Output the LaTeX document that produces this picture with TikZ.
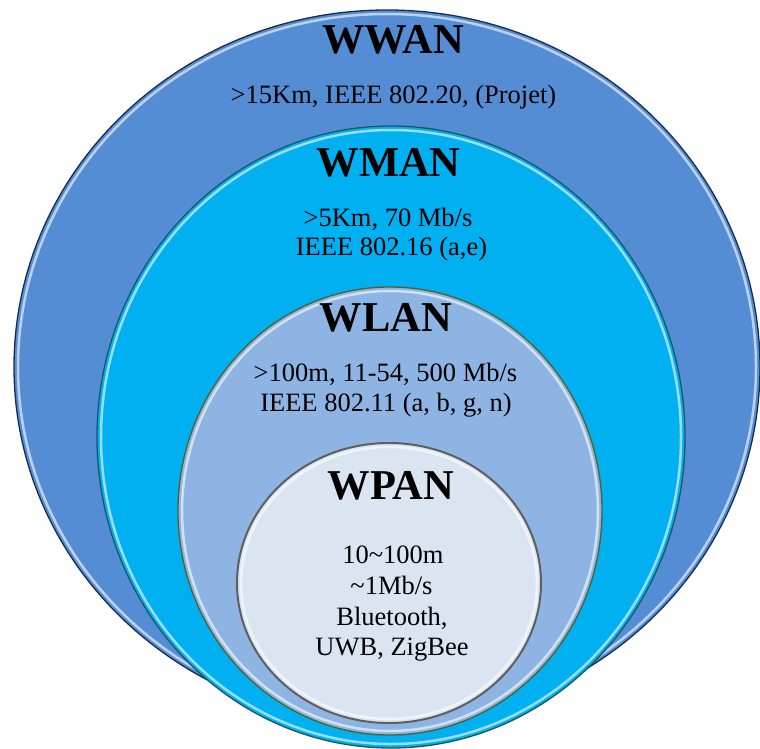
\documentclass[tikz,border=0pt]{standalone}
\usepackage{fontspec}
\setmainfont{Liberation Serif}
\usetikzlibrary{shapes.geometric}
\definecolor{wwanfill}{RGB}{85,141,213}
\definecolor{wwanline}{RGB}{23,45,80}
\definecolor{wmanfill}{RGB}{0,176,240}
\definecolor{wmanline}{RGB}{30,85,100}
\definecolor{wlanfill}{RGB}{142,180,227}
\definecolor{wlanline}{RGB}{85,95,40}
\definecolor{wpanfill}{RGB}{219,229,241}
\definecolor{wpanline}{RGB}{95,95,95}
\tikzset{
  zone/.style={ellipse, inner sep=0pt, outer sep=0pt, line width=1.3pt},
  bevel/.style={white, opacity=0.6, line width=2.5pt},
  title/.style={font=\fontsize{42.5}{46}\selectfont\bfseries, inner sep=0pt, anchor=base},
  info/.style={font=\fontsize{26.5}{31}\selectfont, inner sep=0pt, anchor=base, align=center},
}
\begin{document}
\begin{tikzpicture}[x=1pt,y=-1pt]
\useasboundingbox (0,0) rectangle (760,749);
% WWAN
\node[zone, draw=wwanline, fill=wwanfill, minimum width=746pt, minimum height=714pt] (wwan) at (387,367) {};
\draw[bevel] (wwan.center) ellipse [x radius=369, y radius=353];
% WMAN
\node[zone, draw=wmanline, fill=wmanfill, minimum width=588pt, minimum height=622pt] (wman) at (391,437) {};
\draw[bevel] (wman.center) ellipse [x radius=290, y radius=307];
% WLAN
\node[zone, draw=wlanline, fill=wlanfill, minimum width=424pt, minimum height=448pt] (wlan) at (390,511) {};
\draw[bevel] (wlan.center) ellipse [x radius=208, y radius=220];
% WPAN
\node[zone, draw=wpanline, fill=wpanfill, line width=2pt, minimum width=304pt, minimum height=280pt] (wpan) at (389,583) {};
\draw[bevel] (wpan.center) ellipse [x radius=148, y radius=136];
% texts
\node[title] (t1) at (393,54) {WWAN};
\node[info] (i1) at (393.5,104) {>15Km, IEEE 802.20, (Projet)};
\node[title] (t2) at (388.5,176) {WMAN};
\node[info] (i2a) at (388,226) {>5Km, 70 Mb/s};
\node[info] (i2b) at (391.5,255) {IEEE 802.16 (a,e)};
\node[title] (t3) at (386,331) {WLAN};
\node[info] (i3a) at (385.5,381) {>100m, 11-54, 500 Mb/s};
\node[info] (i3b) at (386,411) {IEEE 802.11 (a, b, g, n)};
\node[title] (t4) at (391,499) {WPAN};
\node[info] (i4a) at (393,563) {10\char`\~100m};
\node[info] (i4b) at (391.5,594) {\char`\~1Mb/s};
\node[info] (i4c) at (392,625) {Bluetooth,};
\node[info] (i4d) at (392,655) {UWB, ZigBee};
\end{tikzpicture}
\end{document}
